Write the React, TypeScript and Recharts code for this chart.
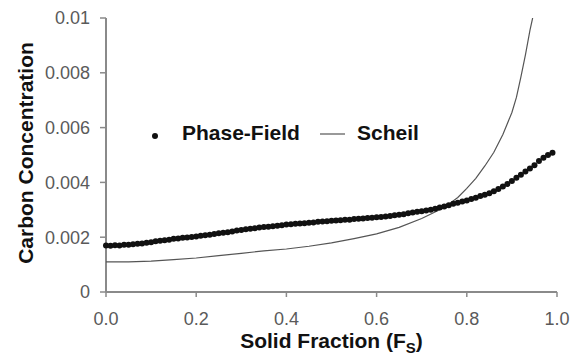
import React from "react";
import {
  ScatterChart,
  Scatter,
  XAxis,
  YAxis,
  Legend,
} from "recharts";

// ---- data ----
const xTicks = [0, 0.2, 0.4, 0.6, 0.8, 1.0];
const yTicks = [0, 0.002, 0.004, 0.006, 0.008, 0.01];

const phaseFieldX = [
  0.0, 0.01, 0.02, 0.03, 0.04, 0.05, 0.06, 0.07, 0.08, 0.09,
  0.1, 0.11, 0.12, 0.13, 0.14, 0.15, 0.16, 0.17, 0.18, 0.19,
  0.2, 0.21, 0.22, 0.23, 0.24, 0.25, 0.26, 0.27, 0.28, 0.29,
  0.3, 0.31, 0.32, 0.33, 0.34, 0.35, 0.36, 0.37, 0.38, 0.39,
  0.4, 0.41, 0.42, 0.43, 0.44, 0.45, 0.46, 0.47, 0.48, 0.49,
  0.5, 0.51, 0.52, 0.53, 0.54, 0.55, 0.56, 0.57, 0.58, 0.59,
  0.6, 0.61, 0.62, 0.63, 0.64, 0.65, 0.66, 0.67, 0.68, 0.69,
  0.7, 0.71, 0.72, 0.73, 0.74, 0.75, 0.76, 0.77, 0.78, 0.79,
  0.8, 0.81, 0.82, 0.83, 0.84, 0.85, 0.86, 0.87, 0.88, 0.89,
  0.9, 0.91, 0.92, 0.93, 0.94, 0.95, 0.96, 0.97, 0.98, 0.99,
];
const phaseFieldC = [
  0.0017, 0.00169, 0.00171, 0.0017, 0.00172, 0.00172, 0.00174, 0.00176, 0.00177, 0.0018,
  0.00182, 0.00185, 0.00187, 0.00189, 0.00191, 0.00194, 0.00195, 0.00198, 0.00199, 0.00201,
  0.00203, 0.00205, 0.00207, 0.00209, 0.00212, 0.00214, 0.00216, 0.00218, 0.00221, 0.00224,
  0.00226, 0.00229, 0.00231, 0.00233, 0.00235, 0.00237, 0.00238, 0.0024, 0.00242, 0.00244,
  0.00246, 0.00247, 0.00249, 0.0025, 0.00251, 0.00253, 0.00254, 0.00256, 0.00257, 0.00258,
  0.0026, 0.00261, 0.00262, 0.00264, 0.00264, 0.00266, 0.00267, 0.00268, 0.0027, 0.00271,
  0.00273, 0.00274, 0.00276, 0.00277, 0.0028, 0.00282, 0.00284, 0.00287, 0.0029, 0.00293,
  0.00295, 0.00297, 0.003, 0.00304, 0.00308, 0.00312, 0.00317, 0.00322, 0.00326, 0.0033,
  0.00334, 0.00339, 0.00344, 0.0035, 0.00355, 0.0036, 0.00368, 0.00376, 0.00385, 0.00394,
  0.00405, 0.00417, 0.00428, 0.0044, 0.00451, 0.00463, 0.00478, 0.0049, 0.005, 0.00508,
];

const scheilX = [
  0, 0.05, 0.1, 0.15, 0.2, 0.25, 0.3, 0.35, 0.4, 0.45, 0.5, 0.55, 0.6, 0.65,
  0.7, 0.75, 0.78, 0.8, 0.82, 0.84, 0.86, 0.88, 0.9, 0.91, 0.92, 0.93, 0.94, 0.946,
];
const scheilC = [
  0.0011, 0.0011, 0.00113, 0.00118, 0.00124, 0.00133, 0.00141, 0.0015, 0.00157, 0.00167,
  0.00179, 0.00195, 0.00212, 0.00236, 0.00268, 0.00308, 0.00345, 0.00378, 0.00415, 0.0046,
  0.0051, 0.00575, 0.00655, 0.0071, 0.00785, 0.00865, 0.00955, 0.01,
];

const phaseField = phaseFieldX.map((x, i) => ({ x, c: phaseFieldC[i] }));
const scheil = scheilX.map((x, i) => ({ x, c: scheilC[i] }));

const FONT = "'Liberation Sans', Arial, sans-serif";
const AXIS_GREY = "#8a8a8a";
const TICK_GREY = "#5a5a5a";

//========== legend (sits inside the plot area) ==========
const ChartLegend = () => (
  <svg width={290} height={30} style={{ display: "block" }}>
    <circle cx={10} cy={16} r={3} fill="#111" />
    <text x={37} y={20} fontFamily={FONT} fontWeight="bold" fontSize={21} fill="#111">
      Phase-Field
    </text>
    <line x1={175} x2={200} y1={14} y2={14} stroke="#777" strokeWidth={1.5} />
    <text x={212} y={20} fontFamily={FONT} fontWeight="bold" fontSize={21} fill="#111">
      Scheil
    </text>
  </svg>
);

const YLabel = ({ viewBox }: any) => {
  const cy = viewBox.y + viewBox.height / 2 - 2;
  return (
    <text
      x={33}
      y={cy}
      transform={`rotate(-90, 33, ${cy})`}
      textAnchor="middle"
      fontFamily={FONT}
      fontWeight="bold"
      fontSize={21}
      fill="#111"
    >
      Carbon Concentration
    </text>
  );
};

const XLabel = ({ viewBox }: any) => (
  <text
    x={viewBox.x + viewBox.width / 2}
    y={348}
    textAnchor="middle"
    fontFamily={FONT}
    fontWeight="bold"
    fontSize={21}
    fill="#111"
  >
    Solid Fraction (F
    <tspan fontSize={15} dy={5}>S</tspan>
    <tspan dy={-5}>)</tspan>
  </text>
);

const Dot = (p: any) => <circle cx={p.cx} cy={p.cy} r={3} fill="#111" />;
const NoDot = () => <g />;

export default function App() {
  return (
    <div style={{ width: 573, height: 359, background: "#fff" }}>
      <style>{`body{margin:0}`}</style>
      <ScatterChart
        width={573}
        height={359}
        margin={{ top: 18, right: 16, bottom: 0, left: 0 }}
      >
        <XAxis
          type="number"
          dataKey="x"
          domain={[0, 1]}
          ticks={xTicks}
          tickFormatter={(v: number) => v.toFixed(1)}
          height={67}
          tickSize={5}
          tickMargin={15}
          axisLine={{ stroke: AXIS_GREY, strokeWidth: 2 }}
          tickLine={{ stroke: AXIS_GREY, strokeWidth: 1.5 }}
          tick={{ fill: TICK_GREY, fontSize: 18, fontFamily: FONT }}
          label={<XLabel />}
        />
        <YAxis
          type="number"
          dataKey="c"
          domain={[0, 0.01]}
          ticks={yTicks}
          allowDataOverflow
          tickFormatter={(v: number) => (v === 0 ? "0" : String(v))}
          width={106}
          tickSize={6}
          tickMargin={10}
          axisLine={{ stroke: AXIS_GREY, strokeWidth: 2 }}
          tickLine={{ stroke: AXIS_GREY, strokeWidth: 1.5 }}
          tick={{ fill: TICK_GREY, fontSize: 18, fontFamily: FONT }}
          label={<YLabel />}
        />
        <Legend
          verticalAlign="middle"
          align="center"
          wrapperStyle={{ top: 120, left: 145, width: 290 }}
          content={() => <ChartLegend />}
        />
        <Scatter
          name="Scheil"
          data={scheil}
          line={{ stroke: "#555", strokeWidth: 1.2 }}
          lineType="joint"
          shape={NoDot}
          isAnimationActive={false}
        />
        <Scatter
          name="Phase-Field"
          data={phaseField}
          shape={Dot}
          isAnimationActive={false}
        />
      </ScatterChart>
    </div>
  );
}
